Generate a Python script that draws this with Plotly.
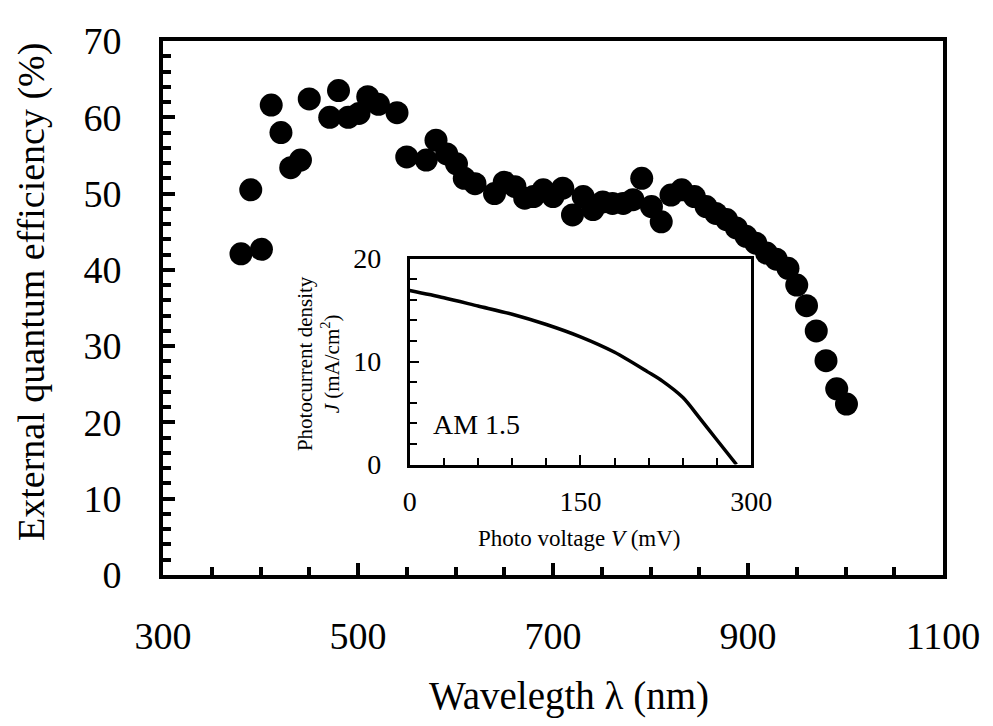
import plotly.graph_objects as go

# Main EQE data
wavelength = [380, 390, 401, 411, 421, 431, 441, 450, 471, 480, 490, 501, 510, 521, 540,
              550, 570, 580, 591, 601, 609, 620, 640, 650, 661, 671, 680, 690, 700, 710,
              720, 731, 741, 751, 761, 772, 782, 791, 801, 811, 821, 832, 845, 857, 867,
              878, 888, 898, 908, 919, 929, 941, 950, 960, 970, 980, 991, 1001]
eqe = [42.1, 50.5, 42.7, 61.6, 58.0, 53.4, 54.4, 62.4, 60.0, 63.5, 60.0, 60.5, 62.7, 61.7, 60.6,
       54.8, 54.4, 57.0, 55.2, 53.9, 52.0, 51.3, 50.0, 51.5, 50.9, 49.4, 49.6, 50.5, 49.6, 50.7,
       47.2, 49.6, 47.9, 48.9, 48.7, 48.7, 49.2, 52.0, 48.3, 46.3, 49.8, 50.5, 49.6, 48.3, 47.4,
       46.6, 45.5, 44.4, 43.5, 42.2, 41.4, 40.2, 38.0, 35.3, 32.0, 28.1, 24.4, 22.4]

# Inset J-V curve
voltage = [0, 30, 60, 90, 120, 150, 180, 209, 222, 240, 254, 269, 287]
current = [16.9, 16.2, 15.4, 14.6, 13.6, 12.4, 10.9, 9.0, 8.1, 6.5, 4.6, 2.5, 0.0]

FONT = "Liberation Serif, Times New Roman, serif"

fig = go.Figure()
fig.add_trace(go.Scatter(x=wavelength, y=eqe, mode="markers",
                         marker=dict(size=23, color="black"),
                         xaxis="x", yaxis="y", showlegend=False))
fig.add_trace(go.Scatter(x=voltage, y=current, mode="lines",
                         line=dict(color="black", width=3.5, shape="spline", smoothing=0.8),
                         xaxis="x2", yaxis="y2", showlegend=False))

fig.update_layout(
    width=993, height=726,
    margin=dict(l=155, r=58, t=29, b=159),
    paper_bgcolor="white", plot_bgcolor="white",
    font=dict(family=FONT, color="black"),
    xaxis=dict(range=[300, 1100], tick0=300, dtick=200, showgrid=False, zeroline=False,
               showline=True, linecolor="black", linewidth=4, mirror=True,
               ticks="inside", ticklen=12, tickwidth=3.5, tickcolor="black",
               tickfont=dict(size=38, family=FONT), ticklabelstandoff=24,
               minor=dict(dtick=50, tick0=300, ticks="inside", ticklen=8, tickwidth=3.5,
                          tickcolor="black", showgrid=False)),
    yaxis=dict(range=[0, 70], tick0=0, dtick=10, showgrid=False, zeroline=False,
               showline=True, linecolor="black", linewidth=4, mirror=True,
               ticks="inside", ticklen=12, tickwidth=3.5, tickcolor="black",
               tickfont=dict(size=38, family=FONT), ticklabelstandoff=30,
               minor=dict(dtick=2, tick0=0, ticks="inside", ticklen=8, tickwidth=3.5,
                          tickcolor="black", showgrid=False)),
    xaxis2=dict(domain=[0.3163, 0.7542], anchor="y2", range=[0, 300], tick0=0, dtick=150,
                showgrid=False, zeroline=False, showline=True, linecolor="black",
                linewidth=2.5, mirror=True, ticks="inside", ticklen=10, tickwidth=2,
                tickcolor="black", tickfont=dict(size=28, family=FONT), ticklabelstandoff=10,
                minor=dict(dtick=30, tick0=0, ticks="inside", ticklen=7, tickwidth=2,
                           tickcolor="black", showgrid=False)),
    yaxis2=dict(domain=[0.2069, 0.5924], anchor="x2", range=[0, 20], tick0=0, dtick=10,
                showgrid=False, zeroline=False, showline=True, linecolor="black",
                linewidth=2.5, mirror=True, ticks="inside", ticklen=10, tickwidth=2,
                tickcolor="black", tickfont=dict(size=28, family=FONT), ticklabelstandoff=20,
                minor=dict(dtick=2, tick0=0, ticks="inside", ticklen=8, tickwidth=2,
                           tickcolor="black", showgrid=False)),
    annotations=[
        dict(text="Wavelegth λ (nm)", xref="paper", yref="paper", x=0.52, y=-0.2268,
             xanchor="center", yanchor="middle", showarrow=False,
             font=dict(size=39, family=FONT)),
        dict(text="External quantum efficiency (%)", xref="paper", yref="paper",
             x=-0.168, y=0.53, xanchor="center", yanchor="middle", textangle=-90,
             showarrow=False, font=dict(size=38, family=FONT)),
        dict(text="Photo voltage <i>V</i> (mV)", xref="paper", yref="paper",
             x=0.5346, y=0.0675, xanchor="center", yanchor="middle", showarrow=False,
             font=dict(size=23, family=FONT)),
        dict(text="Photocurrent density<br><i>J</i> (mA/cm<sup>2</sup>)", xref="paper",
             yref="paper", x=0.1994, y=0.396, xanchor="center", yanchor="middle",
             textangle=-90, showarrow=False, font=dict(size=21, family=FONT)),
        dict(text="AM 1.5", xref="paper", yref="paper", x=0.4013, y=0.2812,
             xanchor="center", yanchor="middle", showarrow=False,
             font=dict(size=28, family=FONT)),
    ],
)

fig.write_html("out.html")
